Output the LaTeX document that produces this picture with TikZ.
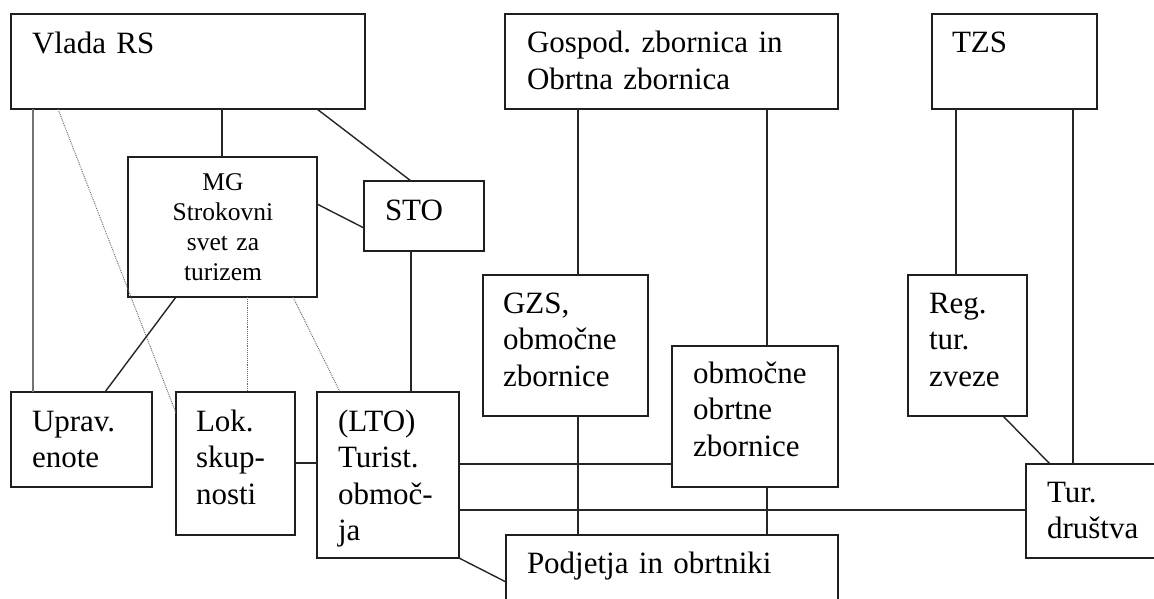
\documentclass[tikz,border=0pt]{standalone}
\usepackage{fontspec}
\setmainfont{Liberation Serif}
\frenchspacing
\begin{document}
\begin{tikzpicture}[x=1pt,y=-1pt,
  box/.style={draw=black!88, line width=1.5pt, inner sep=0pt, outer sep=0pt, anchor=north west},
  txt/.style={inner sep=0pt, outer sep=0pt, anchor=base west, text width=400pt, align=left, font=\fontsize{31}{36.5}\selectfont},
  mgtxt/.style={inner sep=0pt, outer sep=0pt, anchor=base, text width=185pt, align=center, font=\fontsize{25.5}{30}\selectfont},
  con/.style={draw=black!85, line width=1.4pt},
  greycon/.style={draw=black!55, line width=1.4pt},
  dotcon/.style={draw=black!60, line width=0.9pt, densely dotted},
]
\useasboundingbox[fill=white] (0,0) rectangle (1154,599);
\clip (0,0) rectangle (1154,599);

% boxes
\node[box, minimum width=354pt, minimum height=95pt] (vlada) at (11,14) {};
\node[box, minimum width=333pt, minimum height=95pt] (gosp) at (505,14) {};
\node[box, minimum width=165pt, minimum height=95pt] (tzs) at (932,14) {};
\node[box, minimum width=189pt, minimum height=140pt] (mg) at (128,157) {};
\node[box, minimum width=120pt, minimum height=70pt] (sto) at (364,181) {};
\node[box, minimum width=165pt, minimum height=141pt] (gzs) at (483,275) {};
\node[box, minimum width=119pt, minimum height=141pt] (reg) at (908,275) {};
\node[box, minimum width=166pt, minimum height=141pt] (oobrt) at (672,346) {};
\node[box, minimum width=141pt, minimum height=95pt] (uprav) at (11,392) {};
\node[box, minimum width=119pt, minimum height=143pt] (lok) at (176,392) {};
\node[box, minimum width=142pt, minimum height=166pt] (lto) at (317,392) {};
\node[box, minimum width=160pt, minimum height=94pt] (tur) at (1026,464) {};
\node[box, minimum width=332pt, minimum height=90pt] (podj) at (506,535) {};

% texts
\node[txt] (vladaT) at (32,54) {Vlada RS};
\node[txt] (gospT) at (527,53) {Gospod. zbornica in\\Obrtna zbornica};
\node[txt] (tzsT) at (952,53) {TZS};
\node[mgtxt] (mgT) at (223,190) {MG\\Strokovni\\svet za\\turizem};
\node[txt] (stoT) at (385,220) {STO};
\node[txt] (gzsT) at (503,313) {GZS,\\območne\\zbornice};
\node[txt] (regT) at (929,313) {Reg.\\tur.\\zveze};
\node[txt] (oobrtT) at (693,383) {območne\\obrtne\\zbornice};
\node[txt] (upravT) at (32,431) {Uprav.\\enote};
\node[txt] (lokT) at (196,431) {Lok.\\skup-\\nosti};
\node[txt] (ltoT) at (338,431) {(LTO)\\Turist.\\območ-\\ja};
\node[txt] (turT) at (1047,502) {Tur.\\društva};
\node[txt] (podjT) at (527,573) {Podjetja in obrtniki};

% connectors
\draw[greycon] (33,0 |- vlada.south) -- (33,0 |- uprav.north);
\draw[dotcon] (58,0 |- vlada.south) -- (lok.west |- 0,413);
\draw[con] (222,0 |- vlada.south) -- (222,0 |- mg.north);
\draw[con] (317,0 |- vlada.south) -- (411,0 |- sto.north);
\draw[con] (mg.east |- 0,204) -- (sto.west |- 0,228);
\draw[con] (176,0 |- mg.south) -- (105,0 |- uprav.north);
\draw[dotcon] (247,0 |- mg.south) -- (247,0 |- lok.north);
\draw[dotcon] (293,0 |- mg.south) -- (340,0 |- lto.north);
\draw[con] (411,0 |- sto.south) -- (411,0 |- lto.north);
\draw[con] (lok.east |- 0,463) -- (lto.west |- 0,463);
\draw[con] (lto.east |- 0,464) -- (oobrt.west |- 0,464);
\draw[con] (lto.east |- 0,510) -- (tur.west |- 0,510);
\draw[con] (lto.south east) -- (podj.west |- 0,582);
\draw[con] (578,0 |- gosp.south) -- (578,0 |- gzs.north);
\draw[con] (767,0 |- gosp.south) -- (767,0 |- oobrt.north);
\draw[con] (578,0 |- gzs.south) -- (578,0 |- podj.north);
\draw[con] (767,0 |- oobrt.south) -- (767,0 |- podj.north);
\draw[con] (956,0 |- tzs.south) -- (956,0 |- reg.north);
\draw[con] (1073,0 |- tzs.south) -- (1073,0 |- tur.north);
\draw[con] (1003,0 |- reg.south) -- (1050,0 |- tur.north);
\end{tikzpicture}
\end{document}
